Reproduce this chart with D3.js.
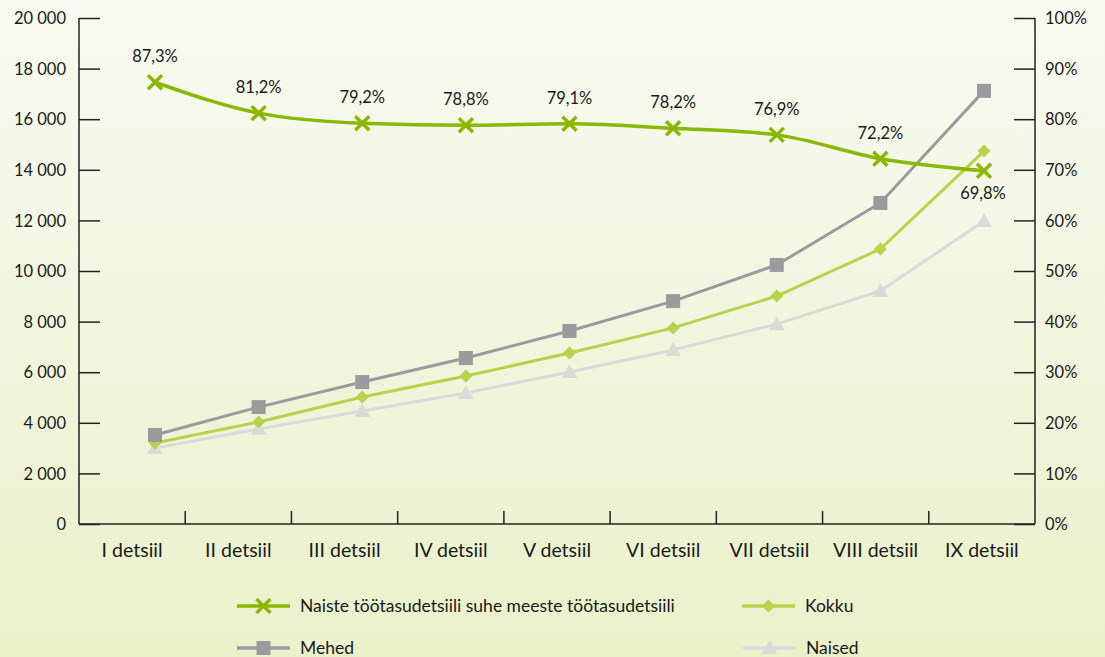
<!DOCTYPE html>
<html><head><meta charset="utf-8">
<script src="https://cdn.jsdelivr.net/npm/d3@7"></script>
<style>body{margin:0;}svg{display:block;font-family:Lato,"Open Sans",sans-serif;}</style>
</head><body>
<svg id="c" width="1105" height="657"></svg>
<script>
const categories = ["I detsiil","II detsiil","III detsiil","IV detsiil","V detsiil","VI detsiil","VII detsiil","VIII detsiil","IX detsiil"];
const mehed  = [3520, 4620, 5610, 6560, 7630, 8810, 10240, 12690, 17120];
const kokku  = [3200, 4030, 5020, 5850, 6760, 7750, 9010, 10870, 14740];
const naised = [3000, 3760, 4470, 5180, 6010, 6880, 7900, 9210, 11980];
const ratio  = [87.3, 81.2, 79.2, 78.8, 79.1, 78.2, 76.9, 72.2, 69.8];
const ratioLabels = ["87,3%","81,2%","79,2%","78,8%","79,1%","78,2%","76,9%","72,2%","69,8%"];
const leftTicks = [0,2000,4000,6000,8000,10000,12000,14000,16000,18000,20000];
const rightTicks = [0,10,20,30,40,50,60,70,80,90,100];
const legendNames = ["Naiste töötasudetsiili suhe meeste töötasudetsiili","Kokku","Mehed","Naised"];

const col = {ratio:"#8ab800", kokku:"#b7d34c", mehed:"#9b9a9f", naised:"#d9dbdb"};
const svg = d3.select("#c");
const defs = svg.append("defs");
const g = defs.append("linearGradient").attr("id","bg").attr("x1",0).attr("y1",0).attr("x2",0).attr("y2",1);
g.append("stop").attr("offset","0%").attr("stop-color","#f8faf1");
g.append("stop").attr("offset","100%").attr("stop-color","#eaf1ca");
svg.append("rect").attr("width",1105).attr("height",657).attr("fill","url(#bg)");

const L=79, R=1035, T=18, B=524;
const yL = d3.scaleLinear().domain([0,20000]).range([B,T]);
const yR = d3.scaleLinear().domain([0,100]).range([B,T]);
const xb = d3.scaleBand().domain(categories).range([L,R]);
const xp = d3.scalePoint().domain(categories).range([155,984]);

const fmt = v => d3.format(",")(v).replace(/,/g," ");
const la = svg.append("g").attr("transform",`translate(${L},0)`)
  .call(d3.axisRight(yL).tickValues(leftTicks).tickSize(21).tickFormat(fmt));
la.select(".domain").remove();
la.selectAll("text").attr("x",-13).attr("text-anchor","end");
const ra = svg.append("g").attr("transform",`translate(${R},0)`)
  .call(d3.axisLeft(yR).tickValues(rightTicks).tickSize(21).tickFormat(d=>d+"%"));
ra.select(".domain").remove();
ra.selectAll("text").attr("x",10).attr("text-anchor","start");
[la,ra].forEach(a=>{a.attr("font-family",null);a.selectAll("text").attr("font-size",16.5).attr("fill","#1a1a1a").attr("dy","0.35em");
  a.selectAll("line").attr("stroke","#222").attr("stroke-width",1.5);});
svg.append("line").attr("x1",L).attr("x2",L).attr("y1",T).attr("y2",B).attr("stroke","#222").attr("stroke-width",1.5);
svg.append("line").attr("x1",R).attr("x2",R).attr("y1",T).attr("y2",B).attr("stroke","#222").attr("stroke-width",1.5);
svg.append("line").attr("x1",L).attr("x2",R).attr("y1",B).attr("y2",B).attr("stroke","#222").attr("stroke-width",1.5);
svg.append("g").selectAll("line").data(categories.slice(1)).join("line")
  .attr("x1",d=>xb(d)).attr("x2",d=>xb(d)).attr("y1",B).attr("y2",B-13).attr("stroke","#222").attr("stroke-width",1.5);
svg.append("g").selectAll("text").data(categories).join("text")
  .attr("x",d=>xb(d)+xb.bandwidth()/2).attr("y",557).attr("text-anchor","middle")
  .attr("font-size",19.5).attr("fill","#1a1a1a").text(d=>d);

const lineL = d3.line().x((d,i)=>xp(categories[i])).y(d=>yL(d));
const series = [{v:naised,c:col.naised,m:"tri"},{v:kokku,c:col.kokku,m:"dia"},{v:mehed,c:col.mehed,m:"sq"}];
function marker(sel, type, c){
  if(type==="sq") sel.append("rect").attr("x",-7).attr("y",-7).attr("width",14).attr("height",14).attr("fill",c);
  else if(type==="dia") sel.append("path").attr("d","M0,-6.5L6.5,0L0,6.5L-6.5,0Z").attr("fill",c);
  else if(type==="tri") sel.append("path").attr("d","M0,-8L8,6L-8,6Z").attr("fill",c);
  else if(type==="x") sel.append("path").attr("d","M-7,-7L7,7M-7,7L7,-7").attr("stroke",c).attr("stroke-width",3.5).attr("fill","none");
}
series.forEach(s=>{
  svg.append("path").attr("d",lineL(s.v)).attr("fill","none").attr("stroke",s.c).attr("stroke-width",3);
  s.v.forEach((v,i)=>{const gm=svg.append("g").attr("transform",`translate(${xp(categories[i])},${yL(v)})`);marker(gm,s.m,s.c);});
});
const lineR = d3.line().x((d,i)=>xp(categories[i])).y(d=>yR(d)).curve(d3.curveMonotoneX);
svg.append("path").attr("d",lineR(ratio)).attr("fill","none").attr("stroke",col.ratio).attr("stroke-width",3.5);
ratio.forEach((v,i)=>{
  const gm=svg.append("g").attr("transform",`translate(${xp(categories[i])},${yR(v)})`);marker(gm,"x",col.ratio);
  const last = i===ratio.length-1;
  svg.append("text").attr("x",xp(categories[i])+(last?-1:0)).attr("y",yR(v)+(last?28:-20))
    .attr("text-anchor","middle").attr("font-size",16.5).attr("fill","#1a1a1a").text(ratioLabels[i]);
});

const leg = [
  {n:legendNames[0],c:col.ratio,m:"x",x:237,y:606},
  {n:legendNames[1],c:col.kokku,m:"dia",x:742,y:606},
  {n:legendNames[2],c:col.mehed,m:"sq",x:237,y:648},
  {n:legendNames[3],c:col.naised,m:"tri",x:743,y:648}];
leg.forEach(d=>{
  const gl=svg.append("g").attr("transform",`translate(${d.x},${d.y})`);
  gl.append("line").attr("x1",0).attr("x2",53).attr("stroke",d.c).attr("stroke-width",3.5);
  const gm=gl.append("g").attr("transform","translate(26.5,0)");marker(gm,d.m,d.c);
  gl.append("text").attr("x",63).attr("y",6).attr("font-size",17.5).attr("fill","#1a1a1a").text(d.n);
});
</script></body></html>
